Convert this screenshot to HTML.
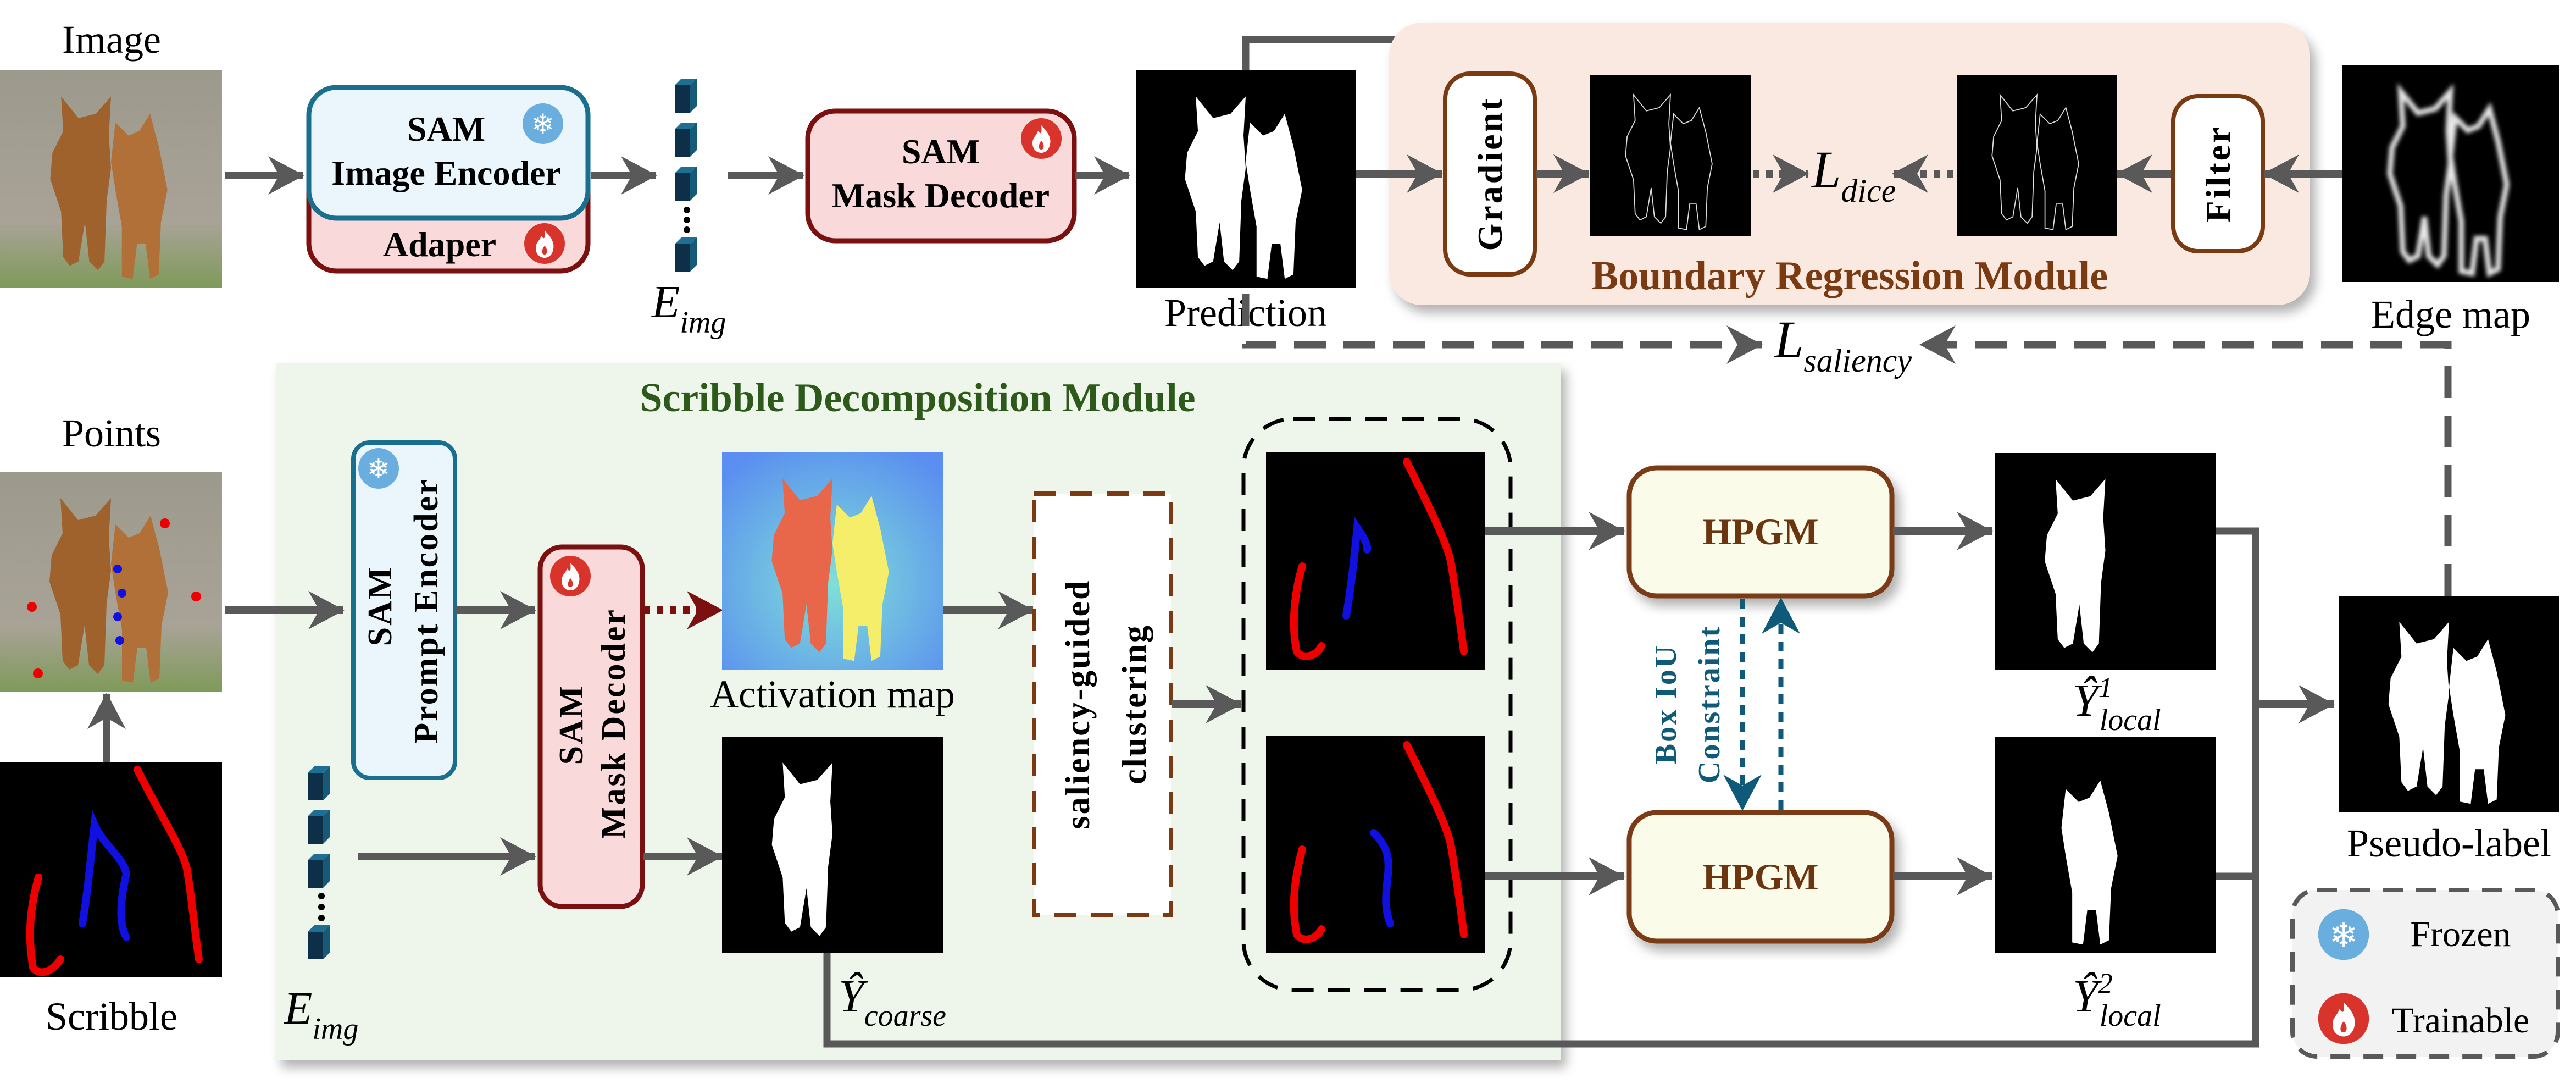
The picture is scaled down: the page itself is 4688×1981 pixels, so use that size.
<!DOCTYPE html>
<html><head><meta charset="utf-8"><style>
html,body{margin:0;padding:0;background:#fff;}
svg{display:block;}
svg text{font-family:"Liberation Serif","Times New Roman",serif !important;}
</style></head><body>
<svg width="4688" height="1981" viewBox="0 0 4688 1981" xmlns="http://www.w3.org/2000/svg" font-family="Liberation Serif, serif">
<defs>
<marker id="ah" markerUnits="userSpaceOnUse" markerWidth="66" markerHeight="70" refX="64" refY="35" orient="auto"><path d="M0,0 L66,35 L0,70 L20,35 Z" fill="#595959"/></marker>
<marker id="ahr" markerUnits="userSpaceOnUse" markerWidth="66" markerHeight="70" refX="64" refY="35" orient="auto"><path d="M0,0 L66,35 L0,70 L20,35 Z" fill="#7a1010"/></marker>
<marker id="ahb" markerUnits="userSpaceOnUse" markerWidth="66" markerHeight="70" refX="64" refY="35" orient="auto"><path d="M0,0 L66,35 L0,70 L20,35 Z" fill="#0e5a78"/></marker>
<filter id="sh" x="-5%" y="-5%" width="115%" height="120%"><feDropShadow dx="10" dy="14" stdDeviation="10" flood-color="#000" flood-opacity="0.3"/></filter>
<filter id="blur"><feGaussianBlur stdDeviation="4"/></filter>
<symbol id="foxA" viewBox="0 0 100 100"><path d="M27,12 L35,22 L43,20 L50,12 L49,30 L50,45 L48,60 L47,88 L44,92 L40,88 L38,70 L35,88 L31,90 L28,86 L27,65 L22,50 L23,38 L28,28 Z"/></symbol>
<symbol id="foxB" viewBox="0 0 100 100"><path d="M52,24 L58,30 L63,28 L68,20 L72,35 L76,55 L73,70 L72,94 L68,96 L66,80 L62,80 L60,96 L55,95 L55,72 L52,55 L50,42 Z"/></symbol>
<linearGradient id="photo" x1="0" y1="0" x2="0" y2="1"><stop offset="0" stop-color="#9c9a8c"/><stop offset="0.7" stop-color="#a9a397"/><stop offset="1" stop-color="#7f9a5a"/></linearGradient>
<radialGradient id="act" cx="0.5" cy="0.6" r="0.7"><stop offset="0" stop-color="#7fe0d8"/><stop offset="1" stop-color="#5a8ef0"/></radialGradient>
<g id="cube"><path d="M0,12 L12,0 L40,0 L28,12 Z" fill="#1f6f94"/><path d="M28,12 L40,0 L40,50 L28,62 Z" fill="#175a78"/><rect x="0" y="12" width="28" height="50" fill="#0d3048"/></g>
<g id="snow"><circle r="37" fill="#6aaee0"/><text y="18" text-anchor="middle" font-size="50" fill="#fff" style="font-family:'DejaVu Sans',sans-serif !important">❄</text></g>
<g id="fire"><circle r="37" fill="#d9342b"/><path d="M0,-24 C14,-10 18,0 16,10 C14,22 6,26 0,26 C-8,26 -16,20 -16,8 C-16,-2 -8,-6 -6,-14 C-2,-8 2,-6 0,-24 Z M0,4 C6,10 6,20 0,20 C-6,20 -6,12 0,4 Z" fill="#fff" fill-rule="evenodd"/></g>
</defs>

<text x="203" y="96" font-size="72" text-anchor="middle">Image</text>
<g>
<rect x="0" y="128" width="404" height="395" fill="url(#photo)"/>
<use href="#foxA" x="0" y="128" width="404" height="395" fill="#a0622c"/>
<use href="#foxB" x="0" y="128" width="404" height="395" fill="#b07038"/>
</g>
<line x1="410" y1="319" x2="552" y2="319" stroke="#595959" stroke-width="14" marker-end="url(#ah)"/>

<rect x="562" y="250" width="508" height="243" rx="50" fill="#f9d9d9" stroke="#7a1010" stroke-width="9"/>
<rect x="562" y="159" width="508" height="238" rx="50" fill="#eaf6fb" stroke="#1a6e8e" stroke-width="9"/>
<text x="812" y="256" font-size="64" font-weight="bold" text-anchor="middle">SAM</text>
<text x="812" y="336" font-size="64" font-weight="bold" text-anchor="middle">Image Encoder</text>
<use href="#snow" x="988" y="225"/>
<text x="800" y="466" font-size="64" font-weight="bold" text-anchor="middle">Adaper</text>
<use href="#fire" x="991" y="443"/>
<line x1="1075" y1="319" x2="1194" y2="319" stroke="#595959" stroke-width="14" marker-end="url(#ah)"/>

<g>
<use href="#cube" x="1228" y="143"/><use href="#cube" x="1228" y="223"/><use href="#cube" x="1228" y="303"/>
<circle cx="1250" cy="382" r="6"/><circle cx="1250" cy="400" r="6"/><circle cx="1250" cy="418" r="6"/>
<use href="#cube" x="1228" y="432"/>
</g>
<text x="1186" y="577" font-size="84" font-style="italic">E<tspan font-size="56" dy="28">img</tspan></text>
<line x1="1324" y1="319" x2="1462" y2="319" stroke="#595959" stroke-width="14" marker-end="url(#ah)"/>

<rect x="1470" y="202" width="485" height="236" rx="50" fill="#f9d9d9" stroke="#7a1010" stroke-width="9"/>
<text x="1712" y="297" font-size="64" font-weight="bold" text-anchor="middle">SAM</text>
<text x="1712" y="377" font-size="64" font-weight="bold" text-anchor="middle">Mask Decoder</text>
<use href="#fire" x="1895" y="252"/>
<line x1="1957" y1="319" x2="2055" y2="319" stroke="#595959" stroke-width="14" marker-end="url(#ah)"/>

<g>
<rect x="2067" y="128" width="400" height="395" fill="#000"/>
<use href="#foxA" x="2067" y="128" width="400" height="395" fill="#fff"/>
<use href="#foxB" x="2067" y="128" width="400" height="395" fill="#fff"/>
</g>
<text x="2267" y="593" font-size="72" text-anchor="middle">Prediction</text>
<polyline points="2267,128 2267,72 4036,72 4036,170" fill="none" stroke="#595959" stroke-width="13" marker-end="url(#ah)"/>

<rect x="2528" y="41" width="1676" height="514" rx="60" fill="#f9e9e1" filter="url(#sh)"/>
<line x1="2467" y1="316" x2="2624" y2="316" stroke="#595959" stroke-width="14" marker-end="url(#ah)"/>
<rect x="2630" y="134" width="163" height="365" rx="45" fill="#fff" stroke="#7a3a12" stroke-width="8"/>
<text transform="translate(2733,316) rotate(-90)" font-size="64" font-weight="bold" text-anchor="middle" letter-spacing="4">Gradient</text>
<line x1="2795" y1="316" x2="2891" y2="316" stroke="#595959" stroke-width="14" marker-end="url(#ah)"/>
<g>
<rect x="2894" y="137" width="292" height="293" fill="#000"/>
<use href="#foxA" x="2894" y="137" width="292" height="293" fill="none" stroke="#ddd" stroke-width="0.6"/>
<use href="#foxB" x="2894" y="137" width="292" height="293" fill="none" stroke="#ddd" stroke-width="0.6"/>
</g>
<line x1="3190" y1="316" x2="3290" y2="316" stroke="#595959" stroke-width="14" stroke-dasharray="12,12" marker-end="url(#ah)"/>
<text x="3297" y="341" font-size="96" font-style="italic">L<tspan font-size="60" dy="26">dice</tspan></text>
<line x1="3555" y1="316" x2="3445" y2="316" stroke="#595959" stroke-width="14" stroke-dasharray="12,12" marker-end="url(#ah)"/>
<g>
<rect x="3561" y="137" width="292" height="293" fill="#000"/>
<use href="#foxA" x="3561" y="137" width="292" height="293" fill="none" stroke="#ddd" stroke-width="0.6"/>
<use href="#foxB" x="3561" y="137" width="292" height="293" fill="none" stroke="#ddd" stroke-width="0.6"/>
</g>
<line x1="3952" y1="316" x2="3853" y2="316" stroke="#595959" stroke-width="14" marker-end="url(#ah)"/>
<rect x="3955" y="175" width="163" height="282" rx="45" fill="#fff" stroke="#7a3a12" stroke-width="8"/>
<text transform="translate(4058,316) rotate(-90)" font-size="64" font-weight="bold" text-anchor="middle" letter-spacing="4">Filter</text>
<line x1="4262" y1="316" x2="4120" y2="316" stroke="#595959" stroke-width="14" marker-end="url(#ah)"/>
<text x="3366" y="526" font-size="74" font-weight="bold" fill="#7a3a12" text-anchor="middle">Boundary Regression Module</text>
<g>
<rect x="4262" y="119" width="395" height="394" fill="#000"/>
<g filter="url(#blur)">
<use href="#foxA" x="4262" y="119" width="395" height="394" fill="none" stroke="#e8e8e8" stroke-width="2.5"/>
<use href="#foxB" x="4262" y="119" width="395" height="394" fill="none" stroke="#e8e8e8" stroke-width="2.5"/>
</g>
</g>
<text x="4460" y="596" font-size="72" text-anchor="middle">Edge map</text>

<polyline points="2267,535 2267,627 3206,627" fill="none" stroke="#595959" stroke-width="13" stroke-dasharray="58,32" marker-end="url(#ah)"/>
<polyline points="4455,1084 4455,627 3495,627" fill="none" stroke="#595959" stroke-width="13" stroke-dasharray="58,32" marker-end="url(#ah)"/>
<text x="3229" y="650" font-size="96" font-style="italic">L<tspan font-size="60" dy="26">saliency</tspan></text>

<rect x="502" y="660" width="2338" height="1268" fill="#eef6ec" filter="url(#sh)"/>
<text x="1670" y="748" font-size="74" font-weight="bold" fill="#2d5a1b" text-anchor="middle">Scribble Decomposition Module</text>

<text x="203" y="812" font-size="72" text-anchor="middle">Points</text>
<g>
<rect x="0" y="858" width="404" height="400" fill="url(#photo)"/>
<use href="#foxA" x="0" y="858" width="404" height="400" fill="#a0622c"/>
<use href="#foxB" x="0" y="858" width="404" height="400" fill="#b07038"/>
<circle cx="58" cy="1104" r="9" fill="#e00"/><circle cx="357" cy="1085" r="9" fill="#e00"/><circle cx="300" cy="952" r="9" fill="#e00"/><circle cx="69" cy="1225" r="9" fill="#e00"/>
<circle cx="214" cy="1035" r="8" fill="#1010e0"/><circle cx="222" cy="1079" r="8" fill="#1010e0"/><circle cx="214" cy="1122" r="8" fill="#1010e0"/><circle cx="218" cy="1165" r="8" fill="#1010e0"/>
</g>
<line x1="194" y1="1386" x2="194" y2="1262" stroke="#595959" stroke-width="14" marker-end="url(#ah)"/>
<g>
<rect x="0" y="1386" width="404" height="392" fill="#000"/>
<path d="M70,1596 C55,1650 50,1700 60,1760 C70,1775 95,1770 110,1745" fill="none" stroke="#e00" stroke-width="14" stroke-linecap="round"/>
<path d="M250,1400 C290,1480 330,1540 340,1580 C350,1640 355,1700 362,1745" fill="none" stroke="#e00" stroke-width="14" stroke-linecap="round"/>
<path d="M150,1680 C160,1620 165,1560 172,1500 C190,1540 225,1560 230,1590 C220,1630 215,1680 230,1705" fill="none" stroke="#1010e0" stroke-width="14" stroke-linecap="round"/>
</g>
<text x="203" y="1873" font-size="72" text-anchor="middle">Scribble</text>

<line x1="410" y1="1110" x2="625" y2="1110" stroke="#595959" stroke-width="14" marker-end="url(#ah)"/>
<rect x="643" y="805" width="185" height="610" rx="30" fill="#eaf6fb" stroke="#1a6e8e" stroke-width="8"/>
<use href="#snow" x="689" y="852"/>
<text transform="translate(712,1102) rotate(-90)" font-size="62" font-weight="bold" text-anchor="middle" letter-spacing="3">SAM</text>
<text transform="translate(796,1111) rotate(-90)" font-size="62" font-weight="bold" text-anchor="middle" letter-spacing="3">Prompt Encoder</text>
<line x1="830" y1="1110" x2="974" y2="1110" stroke="#595959" stroke-width="14" marker-end="url(#ah)"/>
<rect x="983" y="995" width="186" height="654" rx="40" fill="#f9d9d9" stroke="#7a1010" stroke-width="9"/>
<use href="#fire" x="1038" y="1048"/>
<text transform="translate(1060,1318) rotate(-90)" font-size="62" font-weight="bold" text-anchor="middle" letter-spacing="3">SAM</text>
<text transform="translate(1137,1316) rotate(-90)" font-size="62" font-weight="bold" text-anchor="middle" letter-spacing="3">Mask Decoder</text>
<line x1="1171" y1="1110" x2="1314" y2="1110" stroke="#7a1010" stroke-width="14" stroke-dasharray="12,12" marker-end="url(#ahr)"/>

<g>
<rect x="1314" y="823" width="402" height="395" fill="url(#act)"/>
<use href="#foxA" x="1314" y="823" width="402" height="395" fill="#e8664a"/>
<use href="#foxB" x="1314" y="823" width="402" height="395" fill="#f5ee6a"/>
</g>
<text x="1515" y="1287" font-size="72" text-anchor="middle">Activation map</text>
<line x1="1716" y1="1110" x2="1880" y2="1110" stroke="#595959" stroke-width="14" marker-end="url(#ah)"/>

<g>
<use href="#cube" x="560" y="1394"/><use href="#cube" x="560" y="1473"/><use href="#cube" x="560" y="1553"/>
<circle cx="585" cy="1630" r="6"/><circle cx="585" cy="1650" r="6"/><circle cx="585" cy="1670" r="6"/>
<use href="#cube" x="560" y="1683"/>
</g>
<text x="517" y="1862" font-size="84" font-style="italic">E<tspan font-size="56" dy="28">img</tspan></text>
<line x1="651" y1="1558" x2="974" y2="1558" stroke="#595959" stroke-width="14" marker-end="url(#ah)"/>
<line x1="1171" y1="1558" x2="1314" y2="1558" stroke="#595959" stroke-width="14" marker-end="url(#ah)"/>
<g>
<rect x="1314" y="1340" width="402" height="394" fill="#000"/>
<use href="#foxA" x="1314" y="1340" width="402" height="394" fill="#fff"/>
</g>
<text x="1526" y="1840" font-size="84" font-style="italic">Ŷ<tspan font-size="56" dy="26">coarse</tspan></text>
<polyline points="1505,1734 1505,1899 4105,1899 4105,966 4033,966" fill="none" stroke="#595959" stroke-width="13"/>
<line x1="4033" y1="1594" x2="4105" y2="1594" stroke="#595959" stroke-width="13"/>
<line x1="4105" y1="1281" x2="4247" y2="1281" stroke="#595959" stroke-width="14" marker-end="url(#ah)"/>

<rect x="1882" y="898" width="249" height="767" fill="#fff" stroke="#7a3a12" stroke-width="8" stroke-dasharray="40,26"/>
<text transform="translate(1982,1281) rotate(-90)" font-size="62" font-weight="bold" text-anchor="middle" letter-spacing="3">saliency-guided</text>
<text transform="translate(2085,1281) rotate(-90)" font-size="62" font-weight="bold" text-anchor="middle" letter-spacing="3">clustering</text>
<line x1="2133" y1="1281" x2="2258" y2="1281" stroke="#595959" stroke-width="14" marker-end="url(#ah)"/>

<rect x="2263" y="762" width="486" height="1039" rx="90" fill="none" stroke="#000" stroke-width="7" stroke-dasharray="40,26"/>
<g>
<rect x="2304" y="823" width="399" height="395" fill="#000"/>
<path d="M2370,1030 C2355,1080 2350,1140 2360,1185 C2370,1200 2395,1195 2405,1175" fill="none" stroke="#e00" stroke-width="14" stroke-linecap="round"/>
<path d="M2560,840 C2600,920 2630,980 2640,1020 C2650,1080 2658,1140 2664,1185" fill="none" stroke="#e00" stroke-width="14" stroke-linecap="round"/>
<path d="M2450,1120 C2460,1060 2465,1010 2470,960 C2480,975 2490,990 2488,1000" fill="none" stroke="#1010e0" stroke-width="14" stroke-linecap="round"/>
</g>
<g>
<rect x="2304" y="1338" width="399" height="396" fill="#000"/>
<path d="M2370,1545 C2355,1600 2350,1650 2360,1700 C2370,1715 2395,1710 2405,1690" fill="none" stroke="#e00" stroke-width="14" stroke-linecap="round"/>
<path d="M2560,1355 C2600,1435 2630,1495 2640,1535 C2650,1595 2658,1650 2664,1700" fill="none" stroke="#e00" stroke-width="14" stroke-linecap="round"/>
<path d="M2500,1515 C2525,1540 2530,1560 2525,1600 C2520,1640 2522,1660 2530,1680" fill="none" stroke="#1010e0" stroke-width="14" stroke-linecap="round"/>
</g>

<line x1="2703" y1="966" x2="2955" y2="966" stroke="#595959" stroke-width="14" marker-end="url(#ah)"/>
<line x1="2703" y1="1594" x2="2955" y2="1594" stroke="#595959" stroke-width="14" marker-end="url(#ah)"/>
<rect x="2965" y="851" width="478" height="233" rx="50" fill="#fbfbea" stroke="#7a3a12" stroke-width="9" filter="url(#sh)"/>
<text x="3204" y="990" font-size="68" font-weight="bold" fill="#6b3510" text-anchor="middle">HPGM</text>
<rect x="2965" y="1478" width="478" height="234" rx="50" fill="#fbfbea" stroke="#7a3a12" stroke-width="9" filter="url(#sh)"/>
<text x="3204" y="1618" font-size="68" font-weight="bold" fill="#6b3510" text-anchor="middle">HPGM</text>
<line x1="3171" y1="1090" x2="3171" y2="1473" stroke="#0e5a78" stroke-width="9" stroke-dasharray="18,14" marker-end="url(#ahb)"/>
<line x1="3241" y1="1473" x2="3241" y2="1089" stroke="#0e5a78" stroke-width="9" stroke-dasharray="18,14" marker-end="url(#ahb)"/>
<text transform="translate(3050,1281) rotate(-90)" font-size="56" font-weight="bold" fill="#0e5a78" text-anchor="middle" letter-spacing="3">Box IoU</text>
<text transform="translate(3129,1281) rotate(-90)" font-size="56" font-weight="bold" fill="#0e5a78" text-anchor="middle" letter-spacing="3">Constraint</text>

<line x1="3445" y1="966" x2="3625" y2="966" stroke="#595959" stroke-width="14" marker-end="url(#ah)"/>
<line x1="3445" y1="1594" x2="3625" y2="1594" stroke="#595959" stroke-width="14" marker-end="url(#ah)"/>
<g>
<rect x="3630" y="824" width="403" height="394" fill="#000"/>
<use href="#foxA" x="3630" y="824" width="403" height="394" fill="#fff"/>
</g>
<text x="3772" y="1302" font-size="84" font-style="italic">Ŷ<tspan font-size="52" dy="-34">1</tspan><tspan font-size="56" dx="-24" dy="60">local</tspan></text>
<g>
<rect x="3630" y="1341" width="403" height="393" fill="#000"/>
<use href="#foxB" x="3550" y="1341" width="403" height="393" fill="#fff"/>
</g>
<text x="3772" y="1840" font-size="84" font-style="italic">Ŷ<tspan font-size="52" dy="-34">2</tspan><tspan font-size="56" dx="-24" dy="60">local</tspan></text>

<g>
<rect x="4257" y="1084" width="400" height="394" fill="#000"/>
<use href="#foxA" x="4257" y="1084" width="400" height="394" fill="#fff"/>
<use href="#foxB" x="4257" y="1084" width="400" height="394" fill="#fff"/>
</g>
<text x="4457" y="1558" font-size="72" text-anchor="middle">Pseudo-label</text>

<g>
<rect x="4172" y="1619" width="483" height="303" rx="45" fill="#f2f2f2" stroke="#595959" stroke-width="8" stroke-dasharray="36,24"/>
<g transform="translate(4265,1700) scale(1.25)"><use href="#snow"/></g>
<text x="4478" y="1721" font-size="66" text-anchor="middle">Frozen</text>
<g transform="translate(4265,1853) scale(1.25)"><use href="#fire"/></g>
<text x="4478" y="1878" font-size="66" text-anchor="middle">Trainable</text>
</g>
</svg>
</body></html>
